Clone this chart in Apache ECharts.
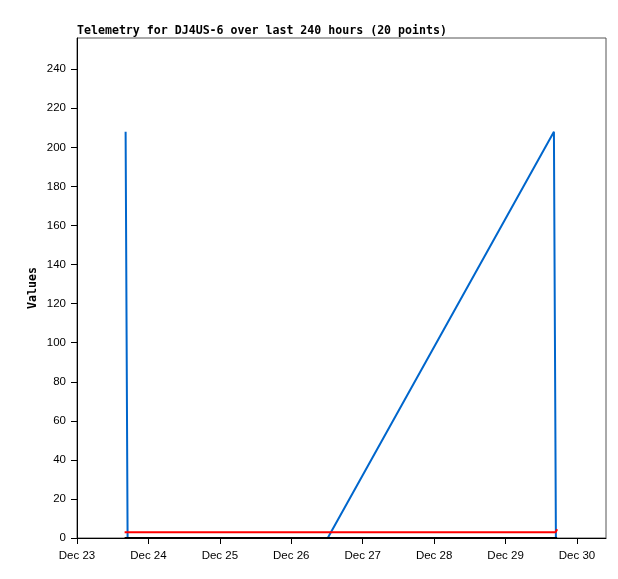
<!DOCTYPE html>
<html>
<head>
<meta charset="utf-8">
<script src="https://cdn.jsdelivr.net/npm/echarts@6/dist/echarts.min.js"></script>
<style>html,body{margin:0;padding:0;background:#fff;}#c{width:618px;height:579px;}</style>
</head>
<body>
<div id="c"></div>
<script>
const titleText = "Telemetry for DJ4US-6 over last 240 hours (20 points)";
const yAxisName = "Values";
const xTickDates = ["2024-12-23","2024-12-24","2024-12-25","2024-12-26","2024-12-27","2024-12-28","2024-12-29","2024-12-30"];
const yTicks = [0,20,40,60,80,100,120,140,160,180,200,220,240];
const xMinTime = "2024-12-23 00:00";
const xMaxTime = "2024-12-30 09:45";

const blueTimes = ["2024-12-23 16:20","2024-12-23 16:40","2024-12-23 17:00","2024-12-26 12:15","2024-12-29 16:15","2024-12-29 16:35","2024-12-29 16:55"];
const blueValues = [208,104,0,0,208,104,0];
const redTimes = ["2024-12-23 16:00","2024-12-29 16:50","2024-12-29 17:20"];
const redValues = [3,3,4.5];
const zeroTimes = ["2024-12-23 16:00","2024-12-29 17:20"];
const zeroValues = [0,0];

function ms(s){ const p = s.split(/[- :]/).map(Number); return Date.UTC(p[0],p[1]-1,p[2],p[3]||0,p[4]||0); }
const months = ["Jan","Feb","Mar","Apr","May","Jun","Jul","Aug","Sep","Oct","Nov","Dec"];
function pair(t,v){ return t.map((x,i)=>[ms(x), v[i]]); }

const chart = echarts.init(document.getElementById('c'), null, {renderer:'canvas'});
const xTickVals = xTickDates.map(d=>ms(d+" 00:00"));
chart.setOption({
  animation:false,
  backgroundColor:'#fff',
  title:{text:titleText,left:77,top:25,padding:0,textStyle:{fontFamily:'DejaVu Sans Mono',fontWeight:'bold',fontSize:11.6,color:'#000'}},
  grid:{left:77,right:12,top:38,bottom:41,show:true,borderColor:'#555',borderWidth:1,backgroundColor:'transparent'},
  xAxis:{type:'value',min:ms(xMinTime),max:ms(xMaxTime),
    axisLine:{show:true,onZero:false,lineStyle:{color:'#000',width:1}},
    axisTick:{show:true,length:6,customValues:xTickVals,lineStyle:{color:'#000'}},
    axisLabel:{customValues:xTickVals,color:'#000',fontFamily:'Liberation Sans',fontSize:11.5,margin:12,
      formatter:v=>{const d=new Date(v);return months[d.getUTCMonth()]+" "+d.getUTCDate();}},
    splitLine:{show:false}},
  yAxis:{type:'value',min:0,max:256,name:yAxisName,nameLocation:'middle',nameGap:38,nameMoveOverlap:false,
    nameTextStyle:{fontFamily:'DejaVu Sans Mono',fontWeight:'bold',fontSize:11.6,color:'#000'},
    axisLine:{show:true,lineStyle:{color:'#000',width:1}},
    axisTick:{show:true,length:6,customValues:yTicks,lineStyle:{color:'#000'}},
    axisLabel:{customValues:yTicks,color:'#000',fontFamily:'Liberation Sans',fontSize:11.5,margin:11},
    splitLine:{show:false}},
  series:[
    {type:'line',data:pair(blueTimes,blueValues),showSymbol:false,lineStyle:{color:'#0066cc',width:2},z:3},
    {type:'line',data:pair(redTimes,redValues),showSymbol:false,lineStyle:{color:'#ff0000',width:2},z:4},
    {type:'line',data:pair(zeroTimes,zeroValues),showSymbol:false,lineStyle:{color:'#000000',width:2},z:5}
  ]
});
</script>
</body>
</html>
